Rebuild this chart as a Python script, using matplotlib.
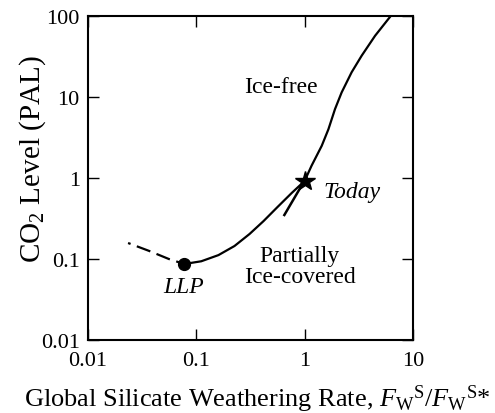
import matplotlib
matplotlib.use("Agg")
import matplotlib.pyplot as plt

plt.rcParams['font.family'] = ['Liberation Serif', 'DejaVu Serif']
plt.rcParams['mathtext.fontset'] = 'custom'
plt.rcParams['mathtext.rm'] = 'Liberation Serif'
plt.rcParams['mathtext.it'] = 'Liberation Serif:italic'

# main branch, from LLP up through today to the top
main_x = [0.0774, 0.111, 0.16, 0.225, 0.31, 0.417, 0.562, 0.759, 1.0,
          1.16, 1.44, 1.66, 1.91, 2.2, 2.72, 3.37, 4.48, 6.25]
main_y = [0.087, 0.094, 0.112, 0.145, 0.204, 0.294, 0.439, 0.653, 0.92,
          1.42, 2.5, 4.0, 7.1, 11.4, 20.2, 32.4, 57.0, 100.0]

# dashed part, left of LLP
dash_x = [0.0234, 0.0367, 0.056, 0.0774]
dash_y = [0.158, 0.126, 0.1, 0.087]

# short branch below today
side_x = [0.65, 0.96]
side_y = [0.35, 0.85]

llp_x, llp_y = 0.0774, 0.087
today_x, today_y = 1.0, 0.92

fig = plt.figure(figsize=(4.95, 4.14), dpi=100)
ax = fig.add_axes([0.178, 0.176, 0.656, 0.783])

ax.plot(main_x, main_y, color='black', lw=1.6, solid_joinstyle='round')
ax.plot(dash_x, dash_y, color='black', lw=1.6, ls=(5.3, (6.5, 3)))
ax.plot(side_x, side_y, color='black', lw=1.8)
ax.plot(llp_x, llp_y, 'o', color='black', ms=8.5)
ax.plot(today_x, today_y, '*', color='black', ms=15)

ax.set_xscale('log')
ax.set_yscale('log')
ax.set_xlim(0.01, 10)
ax.set_ylim(0.01, 100)
ax.set_xticks([0.01, 0.1, 1, 10])
ax.set_xticklabels(['0.01', '0.1', '1', '10'])
ax.set_yticks([0.01, 0.1, 1, 10, 100])
ax.set_yticklabels(['0.01', '0.1', '1', '10', '100'])
ax.minorticks_off()
ax.tick_params(which='major', direction='in', length=8, width=1.0,
               top=True, right=True, labelsize=16, pad=6)
ax.tick_params(axis='x', pad=8)
for s in ax.spines.values():
    s.set_linewidth(1.5)

ax.text(0.61, 13.3, 'Ice-free', fontsize=17, ha='center', va='center')
ax.text(0.077, 0.046, 'LLP', fontsize=17, style='italic', ha='center', va='center')
ax.text(1.5, 0.69, 'Today', fontsize=17, style='italic', ha='left', va='center')
ax.text(0.9, 0.082, 'Partially\nIce-covered', fontsize=17, ha='center', va='center',
        linespacing=0.95)

ax.set_xlabel(r'Global Silicate Weathering Rate, $\mathit{F}_{\mathrm{W}}{}^{\mathrm{S}}/\mathit{F}_{\mathrm{W}}{}^{\mathrm{S}}$*',
              fontsize=19)
ax.xaxis.set_label_coords(0.52, -0.13)
ax.set_ylabel(r'CO$_2$ Level (PAL)', fontsize=21)
ax.yaxis.set_label_coords(-0.125, 0.56)

fig.savefig('out.png', dpi=100)
